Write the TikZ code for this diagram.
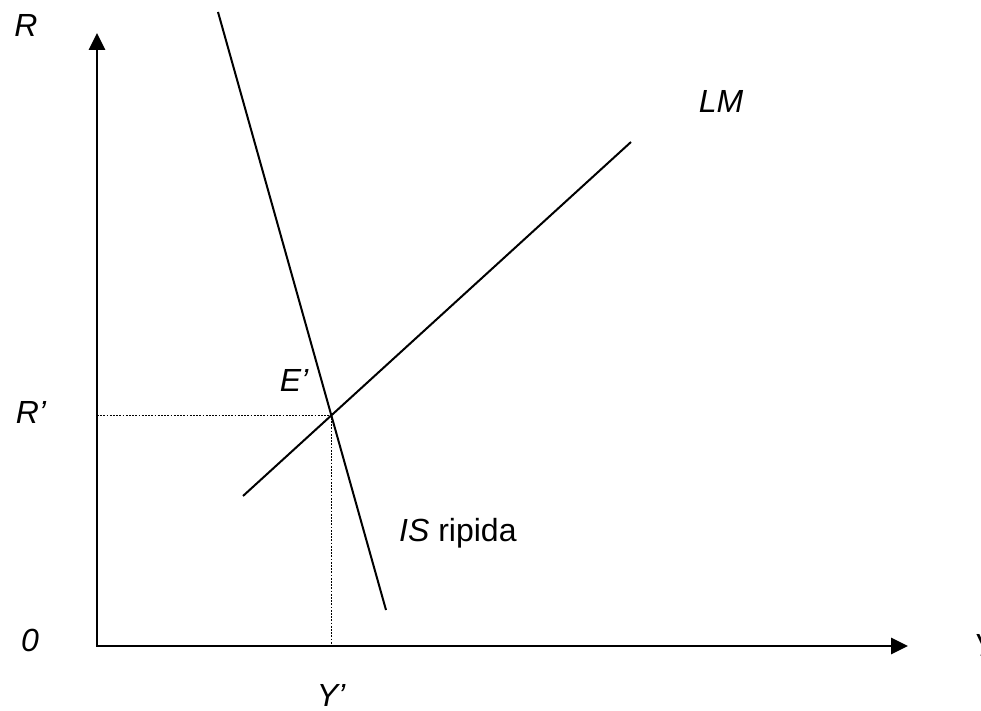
\documentclass[tikz,border=0pt]{standalone}
\usepackage{fontspec}
\setmainfont{Liberation Sans}
\usetikzlibrary{arrows.meta}
\tikzset{axis/.style={draw=black,line width=2.8pt,line join=miter,{Triangle[length=17pt,width=16pt]}-{Triangle[length=17pt,width=16pt]}},curve/.style={draw=black,line width=2pt},guide/.style={draw=black,line width=1.7pt,dash pattern=on 1.7pt off 1.5pt},lbl/.style={inner sep=0pt,text=black,font=\fontsize{32}{38}\selectfont\itshape}}

\begin{document}
\begin{tikzpicture}[x=1pt,y=1pt]
\useasboundingbox (0,0) rectangle (981,711);
\coordinate (O) at (97,65);\coordinate (Ytop) at (97,678);\coordinate (Xend) at (908,65);
\coordinate (IS1) at (218,699);\coordinate (IS2) at (386,101);\coordinate (LM1) at (243,215);\coordinate (LM2) at (631,569);
\coordinate (E) at (intersection of IS1--IS2 and LM1--LM2);\coordinate (Ry) at (O |- E);\coordinate (Yx) at (O -| E);
% axes and curves
\draw[axis] (Ytop) -- (O) -- (Xend);
\draw[guide] (Ry) -- (E) -- (Yx);
\draw[curve] (IS1) -- (IS2);\draw[curve] (LM1) -- (LM2);
% labels
\node[lbl] (labR) at (26,685) {R};\node[lbl] (labRp) at (31,299) {R’};\node[lbl] (labO) at (30,71) {0};
\node[lbl,anchor=west] (labY) at (973,66) {Y};\node[lbl] (labYp) at (331,16) {Y’};\node[lbl] (labE) at (294,331) {E’};
\node[lbl] (labLM) at (721,609) {LM};\node[lbl,anchor=base west] (labIS) at (399,169) {IS \upshape ripida};
\end{tikzpicture}
\end{document}
